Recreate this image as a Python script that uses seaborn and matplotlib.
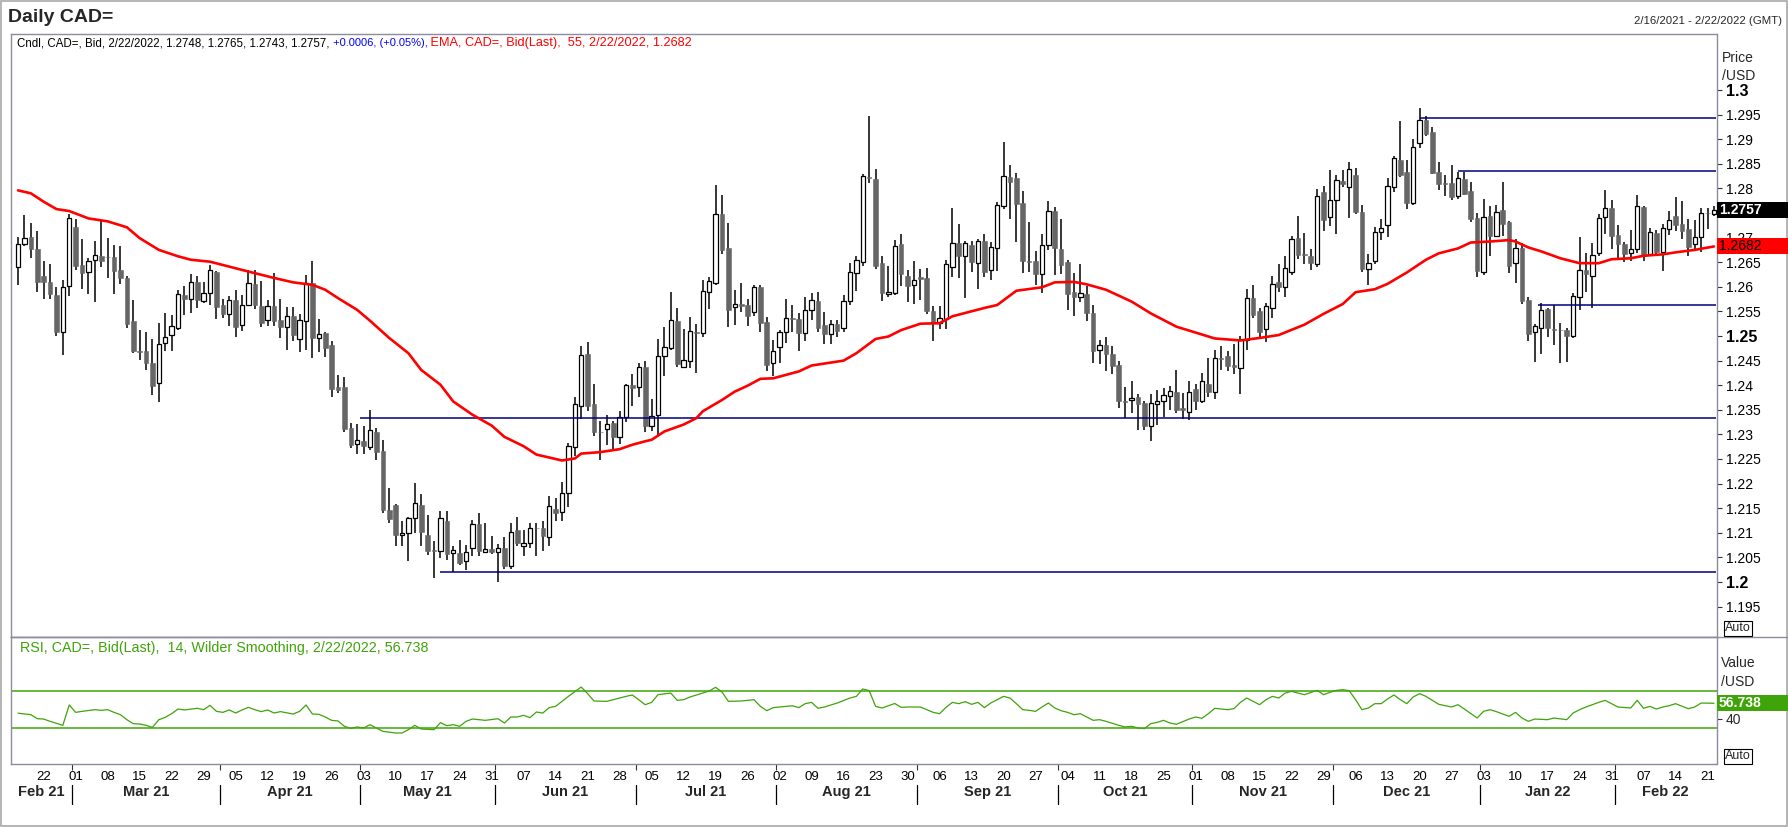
import numpy as np
import pandas as pd
import matplotlib
matplotlib.use("Agg")
import matplotlib.pyplot as plt
import matplotlib.transforms as mtransforms
from matplotlib.patches import Rectangle
from matplotlib.lines import Line2D
from matplotlib import font_manager
import seaborn as sns

# ---------------- data ----------------
trade_dates = pd.bdate_range("2021-02-16", "2022-02-22")

opens = [1.2641,1.2687,1.2701,1.2677,1.2622,1.2610,1.2584,1.2509,1.2601,1.2722,
1.2645,1.2630,1.2654,1.2662,1.2661,1.2661,1.2634,1.2617,1.2531,1.2470,
1.2470,1.2445,1.2405,1.2485,1.2502,1.2516,1.2584,1.2575,1.2610,1.2571,
1.2587,1.2630,1.2562,1.2544,1.2574,1.2522,1.2563,1.2606,1.2561,1.2532,
1.2561,1.2533,1.2518,1.2540,1.2494,1.2530,1.2607,1.2496,1.2506,1.2482,
1.2397,1.2397,1.2314,1.2280,1.2287,1.2274,1.2305,1.2267,1.2147,1.2157,
1.2096,1.2100,1.2130,1.2157,1.2096,1.2066,1.2062,1.2125,1.2059,1.2059,
1.2042,1.2069,1.2118,1.2061,1.2067,1.2060,1.2069,1.2032,1.2106,1.2073,
1.2079,1.2110,1.2110,1.2091,1.2149,1.2142,1.2181,1.2274,1.2357,1.2464,
1.2362,1.2305,1.2310,1.2323,1.2294,1.2335,1.2401,1.2396,1.2437,1.2318,
1.2339,1.2460,1.2475,1.2530,1.2438,1.2450,1.2508,1.2506,1.2590,1.2607,
1.2748,1.2678,1.2558,1.2565,1.2563,1.2549,1.2600,1.2529,1.2445,1.2477,
1.2509,1.2536,1.2535,1.2506,1.2553,1.2572,1.2522,1.2504,1.2525,1.2516,
1.2571,1.2628,1.2651,1.2823,1.2819,1.2649,1.2585,1.2588,1.2687,1.2622,
1.2603,1.2620,1.2617,1.2551,1.2526,1.2534,1.2641,1.2690,1.2662,1.2685,
1.2648,1.2693,1.2634,1.2678,1.2764,1.2823,1.2821,1.2771,1.2653,1.2652,
1.2627,1.2685,1.2754,1.2677,1.2651,1.2589,1.2579,1.2585,1.2547,1.2471,
1.2482,1.2464,1.2442,1.2367,1.2369,1.2376,1.2363,1.2318,1.2362,1.2368,
1.2379,1.2386,1.2353,1.2345,1.2393,1.2367,1.2403,1.2387,1.2455,1.2460,
1.2442,1.2435,1.2491,1.2577,1.2551,1.2514,1.2557,1.2609,1.2599,1.2631,
1.2699,1.2666,1.2663,1.2646,1.2792,1.2741,1.2776,1.2815,1.2802,1.2827,
1.2752,1.2636,1.2653,1.2712,1.2725,1.2802,1.2858,1.2834,1.2770,1.2892,
1.2939,1.2914,1.2833,1.2810,1.2810,1.2785,1.2819,1.2795,1.2739,1.2631,
1.2744,1.2704,1.2756,1.2732,1.2648,1.2678,1.2573,1.2508,1.2517,1.2555,
1.2514,1.2513,1.2512,1.2501,1.2580,1.2634,1.2621,1.2668,1.2741,1.2760,
1.2706,1.2687,1.2668,1.2676,1.2762,1.2666,1.2709,1.2670,1.2717,1.2744,
1.2728,1.2718,1.2687,1.2701,1.2751,1.2748]

highs = [1.2701,1.2746,1.2730,1.2714,1.2653,1.2647,1.2599,1.2614,1.2747,1.2738,
1.2697,1.2658,1.2693,1.2734,1.2700,1.2685,1.2682,1.2622,1.2573,1.2513,
1.2509,1.2494,1.2527,1.2546,1.2542,1.2594,1.2601,1.2627,1.2621,1.2609,
1.2645,1.2632,1.2575,1.2582,1.2594,1.2584,1.2634,1.2634,1.2612,1.2574,
1.2629,1.2576,1.2559,1.2559,1.2545,1.2624,1.2653,1.2535,1.2509,1.2490,
1.2420,1.2417,1.2324,1.2322,1.2318,1.2350,1.2313,1.2289,1.2191,1.2158,
1.2125,1.2133,1.2202,1.2179,1.2137,1.2083,1.2144,1.2145,1.2073,1.2086,
1.2076,1.2127,1.2140,1.2120,1.2093,1.2078,1.2092,1.2119,1.2132,1.2106,
1.2119,1.2119,1.2125,1.2175,1.2171,1.2203,1.2282,1.2376,1.2480,1.2487,
1.2403,1.2328,1.2340,1.2328,1.2348,1.2403,1.2423,1.2446,1.2450,1.2372,
1.2494,1.2518,1.2589,1.2557,1.2515,1.2538,1.2525,1.2613,1.2620,1.2806,
1.2786,1.2729,1.2593,1.2607,1.2575,1.2604,1.2604,1.2539,1.2492,1.2513,
1.2575,1.2563,1.2546,1.2579,1.2587,1.2589,1.2549,1.2533,1.2533,1.2584,
1.2648,1.2663,1.2829,1.2947,1.2840,1.2662,1.2643,1.2695,1.2708,1.2634,
1.2653,1.2636,1.2638,1.2560,1.2560,1.2655,1.2761,1.2728,1.2693,1.2693,
1.2697,1.2708,1.2691,1.2773,1.2894,1.2848,1.2832,1.2795,1.2731,1.2672,
1.2708,1.2775,1.2763,1.2738,1.2655,1.2628,1.2647,1.2601,1.2563,1.2492,
1.2498,1.2479,1.2450,1.2396,1.2409,1.2382,1.2368,1.2382,1.2391,1.2394,
1.2398,1.2431,1.2384,1.2409,1.2403,1.2425,1.2456,1.2472,1.2480,1.2469,
1.2484,1.2500,1.2595,1.2604,1.2557,1.2567,1.2621,1.2647,1.2663,1.2704,
1.2743,1.2709,1.2676,1.2799,1.2804,1.2838,1.2827,1.2837,1.2853,1.2842,
1.2766,1.2666,1.2722,1.2737,1.2821,1.2866,1.2937,1.2858,1.2900,1.2963,
1.2947,1.2924,1.2853,1.2827,1.2848,1.2834,1.2834,1.2812,1.2750,1.2778,
1.2764,1.2766,1.2812,1.2734,1.2697,1.2689,1.2580,1.2525,1.2568,1.2557,
1.2563,1.2526,1.2517,1.2588,1.2701,1.2668,1.2689,1.2747,1.2796,1.2776,
1.2725,1.2692,1.2716,1.2786,1.2764,1.2720,1.2716,1.2728,1.2754,1.2783,
1.2775,1.2737,1.2735,1.2761,1.2760,1.2765]

lows = [1.2604,1.2682,1.2659,1.2590,1.2575,1.2575,1.2499,1.2462,1.2582,1.2634,
1.2595,1.2586,1.2570,1.2640,1.2617,1.2585,1.2605,1.2516,1.2466,1.2452,
1.2430,1.2380,1.2365,1.2469,1.2469,1.2512,1.2542,1.2546,1.2556,1.2567,
1.2564,1.2534,1.2536,1.2521,1.2498,1.2511,1.2560,1.2555,1.2519,1.2521,
1.2521,1.2496,1.2471,1.2489,1.2467,1.2472,1.2455,1.2467,1.2457,1.2377,
1.2385,1.2305,1.2272,1.2261,1.2261,1.2269,1.2247,1.2140,1.2120,1.2073,
1.2074,1.2042,1.2100,1.2074,1.2054,1.2008,1.2049,1.2044,1.2020,1.2035,
1.2024,1.2052,1.2052,1.2058,1.2056,1.2001,1.2027,1.2027,1.2073,1.2052,
1.2069,1.2052,1.2064,1.2074,1.2123,1.2123,1.2152,1.2257,1.2331,1.2347,
1.2297,1.2247,1.2278,1.2266,1.2281,1.2326,1.2358,1.2377,1.2305,1.2306,
1.2296,1.2418,1.2472,1.2438,1.2437,1.2435,1.2425,1.2497,1.2555,1.2603,
1.2667,1.2519,1.2523,1.2549,1.2521,1.2540,1.2509,1.2428,1.2418,1.2446,
1.2486,1.2509,1.2469,1.2489,1.2533,1.2509,1.2484,1.2484,1.2498,1.2508,
1.2563,1.2592,1.2643,1.2810,1.2637,1.2572,1.2580,1.2584,1.2601,1.2569,
1.2565,1.2574,1.2544,1.2489,1.2515,1.2514,1.2620,1.2618,1.2577,1.2631,
1.2595,1.2619,1.2613,1.2633,1.2758,1.2737,1.2692,1.2628,1.2631,1.2604,
1.2588,1.2675,1.2624,1.2626,1.2553,1.2540,1.2570,1.2530,1.2446,1.2443,
1.2429,1.2423,1.2353,1.2333,1.2343,1.2309,1.2309,1.2287,1.2320,1.2335,
1.2350,1.2343,1.2332,1.2330,1.2350,1.2364,1.2376,1.2372,1.2431,1.2428,
1.2423,1.2382,1.2471,1.2536,1.2496,1.2487,1.2536,1.2590,1.2579,1.2623,
1.2656,1.2646,1.2634,1.2641,1.2714,1.2724,1.2708,1.2802,1.2739,1.2748,
1.2630,1.2603,1.2647,1.2695,1.2702,1.2792,1.2823,1.2758,1.2767,1.2882,
1.2907,1.2829,1.2796,1.2785,1.2777,1.2778,1.2786,1.2731,1.2619,1.2625,
1.2663,1.2701,1.2703,1.2629,1.2607,1.2565,1.2490,1.2448,1.2464,1.2497,
1.2482,1.2446,1.2448,1.2496,1.2552,1.2590,1.2556,1.2663,1.2708,1.2677,
1.2657,1.2650,1.2653,1.2668,1.2653,1.2663,1.2664,1.2633,1.2705,1.2714,
1.2697,1.2662,1.2674,1.2670,1.2718,1.2743]

closes = [1.2687,1.2699,1.2676,1.2609,1.2609,1.2586,1.2509,1.2599,1.2739,1.2643,
1.2629,1.2653,1.2664,1.2653,1.2660,1.2633,1.2617,1.2525,1.2470,1.2467,
1.2445,1.2398,1.2484,1.2498,1.2521,1.2585,1.2575,1.2609,1.2574,1.2587,
1.2634,1.2558,1.2544,1.2573,1.2519,1.2563,1.2607,1.2562,1.2526,1.2561,
1.2530,1.2519,1.2540,1.2503,1.2533,1.2607,1.2496,1.2504,1.2475,1.2393,
1.2391,1.2310,1.2278,1.2289,1.2276,1.2309,1.2264,1.2147,1.2129,1.2096,
1.2100,1.2130,1.2161,1.2101,1.2064,1.2062,1.2130,1.2056,1.2066,1.2039,
1.2061,1.2118,1.2062,1.2067,1.2061,1.2069,1.2032,1.2102,1.2079,1.2079,
1.2110,1.2109,1.2093,1.2154,1.2140,1.2181,1.2277,1.2362,1.2462,1.2358,
1.2304,1.2304,1.2321,1.2294,1.2335,1.2400,1.2394,1.2437,1.2318,1.2338,
1.2460,1.2477,1.2533,1.2444,1.2451,1.2510,1.2507,1.2591,1.2611,1.2748,
1.2675,1.2552,1.2565,1.2560,1.2540,1.2599,1.2526,1.2442,1.2469,1.2508,
1.2536,1.2534,1.2506,1.2552,1.2573,1.2517,1.2505,1.2524,1.2511,1.2571,
1.2630,1.2654,1.2825,1.2821,1.2643,1.2588,1.2589,1.2683,1.2626,1.2601,
1.2614,1.2615,1.2550,1.2526,1.2536,1.2646,1.2689,1.2662,1.2689,1.2650,
1.2693,1.2631,1.2680,1.2766,1.2825,1.2814,1.2769,1.2653,1.2651,1.2627,
1.2685,1.2754,1.2678,1.2645,1.2586,1.2580,1.2587,1.2546,1.2469,1.2482,
1.2464,1.2440,1.2367,1.2366,1.2374,1.2362,1.2318,1.2364,1.2368,1.2381,
1.2389,1.2350,1.2350,1.2386,1.2367,1.2409,1.2387,1.2455,1.2454,1.2439,
1.2436,1.2491,1.2577,1.2542,1.2509,1.2561,1.2605,1.2599,1.2638,1.2697,
1.2664,1.2665,1.2648,1.2785,1.2736,1.2777,1.2817,1.2808,1.2840,1.2752,
1.2637,1.2649,1.2712,1.2719,1.2804,1.2861,1.2827,1.2770,1.2885,1.2940,
1.2910,1.2832,1.2808,1.2809,1.2782,1.2821,1.2788,1.2738,1.2633,1.2741,
1.2703,1.2752,1.2728,1.2643,1.2678,1.2571,1.2505,1.2520,1.2553,1.2517,
1.2513,1.2512,1.2501,1.2582,1.2634,1.2627,1.2664,1.2739,1.2760,1.2704,
1.2686,1.2666,1.2676,1.2764,1.2663,1.2711,1.2670,1.2719,1.2735,1.2726,
1.2714,1.2680,1.2701,1.2750,1.2750,1.2757]

# EMA(55) (trading-day number, value)
ema_day = [0,2,4,6,8,11,14,17,19,22,25,27,30,33,36,40,43,46,48,50,53,55,58,61,63,66,68,71,74,76,
           79,81,84,85,87,88,91,94,96,98,99,101,104,106,107,110,112,114,116,118,122,124,127,129,131,134,136,138,141,144,
           146,151,153,156,160,162,165,167,170,174,177,181,184,187,191,194,197,201,204,207,209,212,214,217,220,222,225,227,230,233,
           234,236,238,241,244,247,249,252,254,257,259,262,265]
ema_val = [1.2796,1.2790,1.2773,1.2758,1.2754,1.2739,1.2733,1.2721,1.2699,1.2675,1.2662,1.2655,1.2651,1.2641,1.2631,1.2618,1.2609,1.2604,1.2594,1.2577,
           1.2553,1.2531,1.2496,1.2465,1.2431,1.2401,1.2367,1.2340,1.2318,1.2295,1.2276,1.2259,1.2250,1.2247,1.2251,1.2261,1.2264,1.2270,1.2279,1.2286,
           1.2289,1.2306,1.2320,1.2333,1.2347,1.2370,1.2387,1.2399,1.2413,1.2414,1.2428,1.2440,1.2446,1.2450,1.2465,1.2494,1.2499,1.2512,1.2525,1.2526,
           1.2540,1.2557,1.2563,1.2592,1.2599,1.2609,1.2610,1.2605,1.2594,1.2570,1.2546,1.2519,1.2507,1.2495,1.2491,1.2496,1.2502,1.2523,1.2545,1.2565,
           1.2589,1.2595,1.2606,1.2629,1.2655,1.2668,1.2678,1.2690,1.2692,1.2695,1.2692,1.2680,1.2672,1.2658,1.2648,1.2648,1.2656,1.2658,1.2663,1.2666,
           1.2670,1.2675,1.2682]

# RSI(14) (trading-day number, value)
rsi_day = [0,2,3,4,5,6,7,8,9,10,12,13,14,15,16,17,18,19,20,21,22,23,24,25,26,28,29,30,31,32,
           33,34,35,36,37,38,39,40,41,43,44,45,46,47,48,49,50,51,52,53,54,55,56,57,59,60,61,62,63,65,
           66,67,68,69,70,71,73,75,76,77,78,79,80,81,82,83,84,86,88,89,90,92,93,95,96,98,99,100,102,103,
           104,105,108,109,110,111,113,115,116,117,118,121,122,123,124,125,126,128,130,131,132,133,134,135,137,138,139,141,143,144,
           145,146,147,148,149,150,151,152,154,155,156,157,158,159,160,161,162,163,164,165,166,167,168,169,170,171,172,173,174,175,
           176,177,178,179,180,181,183,184,185,186,187,189,190,191,192,193,194,195,196,197,198,199,200,201,203,204,205,206,207,208,
           209,210,211,212,213,214,215,216,217,218,219,220,222,223,224,225,226,228,229,230,231,233,234,235,236,237,239,240,242,243,
           244,245,247,248,249,250,252,253,254,255,256,257,258,259,261,262,263,265]
rsi_val = [46.0,44.4,40.1,39.7,37.2,35.0,32.9,54.9,46.9,48.0,49.8,49.1,49.8,46.9,44.4,39.0,34.7,34.3,32.9,30.7,39.0,41.5,45.5,50.5,49.5,51.3,49.8,54.5,48.0,46.9,
           49.5,46.2,49.5,52.3,49.8,47.7,49.5,46.2,47.7,45.1,48.0,54.9,45.1,44.8,41.9,38.3,37.6,31.8,29.6,31.1,30.0,33.6,30.0,26.4,24.6,24.6,28.2,32.9,28.9,28.2,
           35.8,32.5,33.6,31.8,37.2,39.7,38.3,40.0,35.4,41.9,41.9,43.7,41.2,47.3,46.2,52.0,53.4,64.2,74.3,67.1,59.2,58.8,60.6,64.2,65.7,55.2,57.7,66.0,67.8,59.9,
           60.6,63.5,70.0,74.0,68.9,58.8,59.2,60.6,53.4,48.7,52.0,54.1,52.0,56.3,57.7,51.3,52.7,57.0,62.4,64.2,72.2,70.4,53.4,51.6,56.5,52.3,52.7,52.7,46.9,45.5,
           52.3,57.7,56.3,58.5,55.6,57.7,52.0,57.0,64.2,62.4,56.3,49.8,49.1,48.0,52.7,57.0,51.6,48.7,46.9,44.4,45.5,41.9,38.3,39.0,37.2,35.0,32.9,31.1,31.8,30.0,
           29.3,34.7,36.1,38.3,35.4,34.0,39.7,41.9,40.5,45.5,51.3,49.8,50.9,57.7,62.4,58.8,55.2,60.6,64.2,62.4,67.8,69.6,67.8,66.0,70.7,66.0,68.6,70.7,71.4,70.4,
           60.6,49.8,51.6,56.3,56.3,61.4,65.7,60.6,56.3,63.5,67.1,64.2,55.6,54.1,52.7,55.2,50.5,40.8,48.0,49.8,47.7,42.6,46.9,40.8,37.2,39.7,39.0,40.8,39.0,46.2,
           49.8,52.7,57.7,59.9,56.3,52.7,51.6,59.9,51.3,53.4,50.5,52.7,54.1,56.3,50.9,52.7,57.0,56.738]

# horizontal trend levels (price, first trading day)
level_price = [1.2943, 1.2835, 1.2563, 1.2333, 1.2020]
level_from = [219, 225, 237.5, 53.5, 66]

rsi_bands = [70, 30]
price_ticks = [round(1.195 + 0.005 * k, 3) for k in range(22)]

# ---------------- style ----------------
sns.set_theme(style="white")
names = {f.name for f in font_manager.fontManager.ttflist}
BASE = "Liberation Sans" if "Liberation Sans" in names else "DejaVu Sans"
plt.rcParams["font.family"] = [BASE, "DejaVu Sans"]

W, H = 1788, 827
fig = plt.figure(figsize=(W / 100, H / 100), dpi=100)
fig.patch.set_facecolor("white")

def fx(p):
    return p / W

def fy(p):
    return 1 - p / H

L, R = 11, 1716.5
TOP, SEP, BOT = 34, 637, 764
SPINE = "#8C8CA0"
GREEN = "#3FA30A"

ax = fig.add_axes([fx(L), fy(SEP), (R - L) / W, (SEP - TOP) / H])
ax2 = fig.add_axes([fx(L), fy(BOT), (R - L) / W, (BOT - SEP) / H])
XMIN, XMAX = -1.1, 265.4

# ---------------- candles ----------------
o = np.array(opens); h = np.array(highs); l = np.array(lows); c = np.array(closes)
x = np.arange(len(o))
up = c >= o
bb = np.minimum(o, c)
bh = np.maximum(np.abs(c - o), 0.00008)
ax.vlines(x, np.minimum(l, bb), np.maximum(h, bb + bh), color="black", linewidth=1.1, zorder=2)
ax.bar(x[up], bh[up], bottom=bb[up], width=0.68, facecolor="white", edgecolor="black",
       linewidth=0.9, zorder=3)
ax.bar(x[~up], bh[~up], bottom=bb[~up], width=0.72, facecolor="#666666", edgecolor="#666666",
       linewidth=0.4, zorder=3)

for lv, st in zip(level_price, level_from):
    ax.hlines(lv, st, XMAX, color="#000080", linewidth=1.1, zorder=4)

sns.lineplot(x=ema_day, y=ema_val, ax=ax, color="#FF0000", linewidth=1.9, zorder=6)

ax.set_xlim(XMIN, XMAX)
ax.set_ylim(1.3 - (SEP - 90) / 4920, 1.3 + (90 - TOP) / 4920)
ax.set_xlabel(""); ax.set_ylabel("")
ax.yaxis.tick_right()
ax.set_yticks(price_ticks)
# 1.275 sits fully under the last-price box in the reference, so its label is left blank
ax.set_yticklabels(["" if abs(v - 1.275) < 1e-9 else ("%.3f" % v).rstrip("0").rstrip(".")
                    for v in price_ticks])
ax.tick_params(axis="y", direction="out", length=3.5, width=0.8, pad=3, labelsize=10,
               color="#333333", labelcolor="black", right=True, left=False)
for v, t in zip(price_ticks, ax.get_yticklabels()):
    if abs(v * 20 - round(v * 20)) < 1e-6:
        t.set_fontweight("bold"); t.set_fontsize(11.5)
ax.tick_params(axis="x", bottom=False, labelbottom=False)

# ---------------- RSI ----------------
for b in rsi_bands:
    ax2.axhline(b, color=GREEN, linewidth=1.1, zorder=2)
sns.lineplot(x=rsi_day, y=rsi_val, ax=ax2, color=GREEN, linewidth=0.9, zorder=3)
ax2.set_xlim(XMIN, XMAX)
ax2.set_ylim(30 - (BOT - 728) / 0.925, 30 + (728 - SEP) / 0.925)
ax2.set_xlabel(""); ax2.set_ylabel("")
ax2.yaxis.tick_right()
ax2.set_yticks([40]); ax2.set_yticklabels(["40"])
ax2.tick_params(axis="y", direction="out", length=3.5, width=0.8, pad=3, labelsize=10,
                color="#333333", right=True, left=False)

mondays = [i for i, d in enumerate(trade_dates) if d.weekday() == 0]
ax2.set_xticks(mondays)
ax2.set_xticklabels([trade_dates[i].strftime("%d") for i in mondays])
first_of_month = [0] + [i for i in range(1, len(trade_dates)) if trade_dates[i].month != trade_dates[i - 1].month]
bounds = [i - 0.5 for i in first_of_month[1:]]
ax2.set_xticks(bounds, minor=True)
ax2.tick_params(axis="x", which="major", length=0, pad=5, labelsize=9.5, colors="black")
ax2.tick_params(axis="x", which="minor", length=4, width=0.8, color="#333333", bottom=True)

for a in (ax, ax2):
    for s in a.spines.values():
        s.set_color(SPINE); s.set_linewidth(1.0)

# month labels and separators
trans = mtransforms.blended_transform_factory(ax2.transData, fig.transFigure)
edges = [XMIN] + bounds + [XMAX]
for k, start in enumerate(first_of_month):
    cx = (edges[k] + edges[k + 1]) / 2
    fig.text(cx, fy(792), trade_dates[start].strftime("%b %y"), transform=trans,
             ha="center", va="center", fontsize=10.5, fontweight="bold")
for b in bounds:
    fig.add_artist(Line2D([b, b], [fy(785), fy(804)], transform=trans, color="black", linewidth=0.9))

# ---------------- frame / separators ----------------
fig.add_artist(Line2D([fx(L), 1], [fy(SEP), fy(SEP)], transform=fig.transFigure, color=SPINE, linewidth=1.0))
fig.add_artist(Rectangle((fx(1), fy(826)), (W - 2) / W, 825 / H, transform=fig.transFigure,
                         fill=False, edgecolor="#A8A8A8", linewidth=1.2))

# ---------------- texts ----------------
fig.text(fx(8), fy(17), "Daily CAD=", fontsize=14, fontweight="bold", va="center", ha="left")
fig.text(fx(1782), fy(21), "2/16/2021 - 2/22/2022 (GMT)", fontsize=8.2, va="center", ha="right")

renderer = fig.canvas.get_renderer()

def chain(xp, yp, parts):
    cur = xp
    for s, col, size in parts:
        t = fig.text(cur / W, fy(yp), s, color=col, fontsize=size, va="center", ha="left")
        cur = t.get_window_extent(renderer).x1

chain(17, 43, [("Cndl, CAD=, Bid, 2/22/2022, 1.2748, 1.2765, 1.2743, 1.2757,", "black", 8.3),
               (" +0.0006, (+0.05%),", "#0000FF", 8.0),
               (" EMA, CAD=, Bid(Last),  55, 2/22/2022, 1.2682", "#FF0000", 9.2)])
chain(20, 648, [("RSI, CAD=, Bid(Last),  14, Wilder Smoothing, 2/22/2022, 56.738", GREEN, 10.3)])

fig.text(fx(1722), fy(58), "Price", fontsize=10, va="center")
fig.text(fx(1722), fy(76), "/USD", fontsize=10, va="center")
fig.text(fx(1721), fy(663), "Value", fontsize=10, va="center")
fig.text(fx(1721), fy(682), "/USD", fontsize=10, va="center")

def ypix(a, val):
    return H - a.transData.transform((0, val))[1]

def value_box(yc, txt, fc, tc, bold):
    fig.add_artist(Rectangle((fx(1717), fy(yc + 8)), (W - 1717) / W, 16 / H,
                             transform=fig.transFigure, facecolor=fc, edgecolor="none", zorder=5))
    fig.text(fx(1719), fy(yc), txt, color=tc, fontsize=10, fontweight="bold" if bold else "normal",
             va="center", ha="left", zorder=6)

value_box(ypix(ax, closes[-1]), "%.4f" % closes[-1], "black", "white", True)
value_box(ypix(ax, ema_val[-1]), "%.4f" % ema_val[-1], "#FF0000", "black", False)
value_box(ypix(ax2, rsi_val[-1]), "%.3f" % rsi_val[-1], GREEN, "white", True)

for yb in (628, 756):
    fig.text(fx(1738), fy(yb), "Auto", fontsize=9, ha="center", va="center",
             bbox=dict(boxstyle="square,pad=0.12", facecolor="white", edgecolor="black", linewidth=0.8))

fig.savefig("out.png", dpi=100, facecolor="white")
